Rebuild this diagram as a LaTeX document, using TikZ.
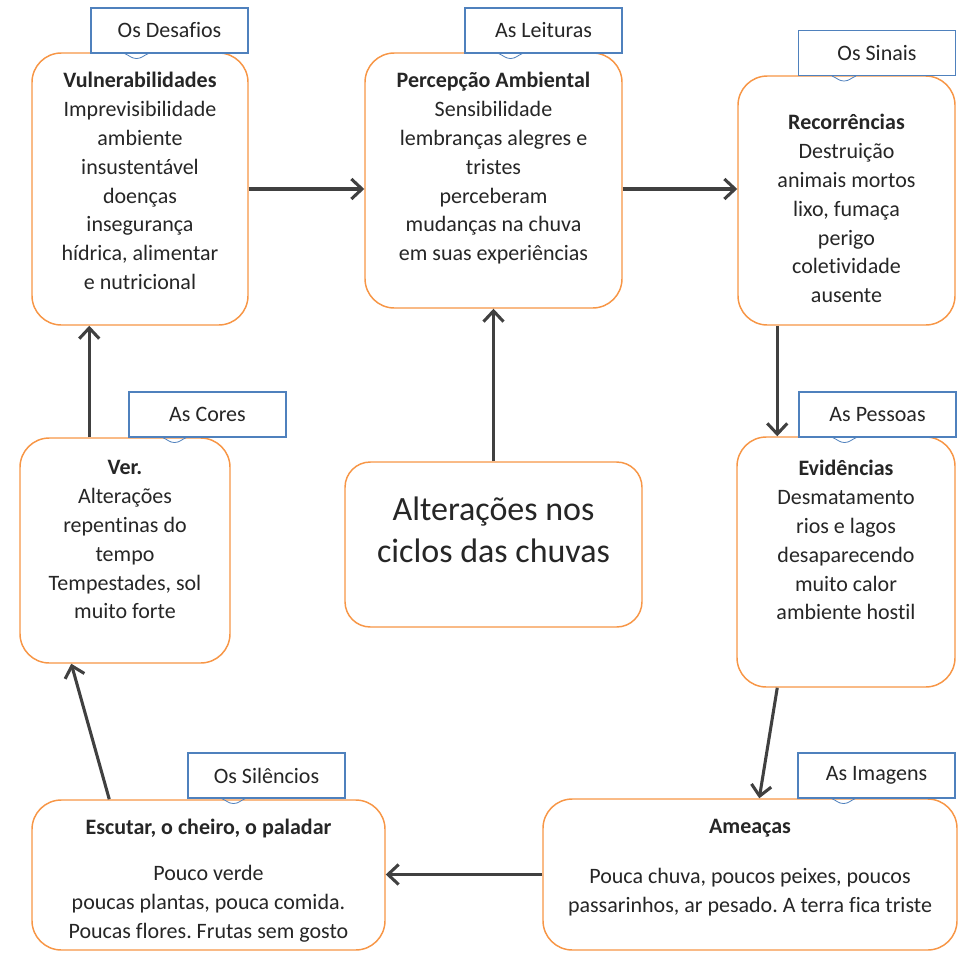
\documentclass[tikz,border=0pt]{standalone}
\usepackage{fontspec}
\setmainfont{Carlito}[Ligatures=NoCommon]
\frenchspacing
\usetikzlibrary{arrows.meta,positioning,calc}
\definecolor{ink}{HTML}{262626}
\definecolor{wire}{HTML}{404040}
\definecolor{frame}{HTML}{F79646}
\definecolor{tagline}{HTML}{4F81BD}
\newcommand{\card}[5]{%
  \node[card, minimum width=#4*0.75pt, minimum height=#5*0.75pt] (#1) at (#2,#3) {};}
\tikzset{
  card/.style={draw=frame, line width=1.1pt, rounded corners=22pt, fill=white, inner sep=0pt},
  cardtext/.style={anchor=north, align=center, font=\fontsize{16.5}{21.6}\selectfont, text=ink, inner sep=0pt},
  badge/.style={draw=tagline, line width=0.8pt, fill=white, minimum width=117.75pt, minimum height=33.75pt,
                font=\fontsize{16.5}{20}\selectfont, text=ink, inner sep=0pt},
  flow/.style={-{Straight Barb[length=8pt,width=15pt]}, wire, line width=2.3pt},
}

\begin{document}
\begin{tikzpicture}[x=0.75pt,y=-0.75pt]
\useasboundingbox (0,0) rectangle (963,956);

% ---------- boxes
\card{vul}{140}{189}{216}{272}
\card{per}{493.5}{180.5}{257}{255}
\card{rec}{846.5}{200.5}{217}{249}
\card{ver}{125}{550.5}{210}{225}
\card{evi}{846}{562}{218}{250}
\card{esc}{208.5}{875}{353}{150}
\card{ame}{750}{874.5}{414}{151}
\node[card, rounded corners=19pt, minimum width=222.75pt, minimum height=123.75pt] (alt) at (493.5,544.5) {};

% ---------- box texts
\node[cardtext] (vul-t) at ($(vul.north)+(0,20)$)
  {\textbf{Vulnerabilidades}\\Imprevisibilidade\\ambiente\\insustentável\\doenças\\insegurança\\hídrica, alimentar\\e nutricional};
\node[cardtext] (per-t) at ($(per.north)+(0,20)$)
  {\textbf{Percepção Ambiental}\\Sensibilidade\\lembranças alegres e\\tristes\\perceberam\\mudanças na chuva\\em suas experiências};
\node[cardtext] (rec-t) at ($(rec.north)+(0,39)$)
  {\textbf{Recorrências}\\Destruição\\animais mortos\\lixo, fumaça\\perigo\\coletividade\\ausente};
\node[cardtext] (ver-t) at ($(ver.north)+(0,23)$)
  {\textbf{Ver.}\\Alterações\\repentinas do\\tempo\\Tempestades, sol\\muito forte};
\node[cardtext] (evi-t) at ($(evi.north)+(0,24)$)
  {\textbf{Evidências}\\Desmatamento\\rios e lagos\\desaparecendo\\muito calor\\ambiente hostil};
\node[cardtext] (esc-t) at ($(esc.north)+(0,20)$)
  {\textbf{Escutar, o cheiro, o paladar}\\[12.5pt]Pouco verde\\poucas plantas, pouca comida.\\Poucas flores. Frutas sem gosto};
\node[cardtext] (ame-t) at ($(ame.north)+(0,21)$)
  {\textbf{Ameaças}\\[16pt]Pouca chuva, poucos peixes, poucos\\passarinhos, ar pesado. A terra fica triste};
\node[cardtext, font=\fontsize{25.5}{32}\selectfont] (alt-t) at ($(alt.north)+(0,35)$)
  {Alterações nos\\ciclos das chuvas};

% ---------- tags
\foreach \nm/\cx/\cy/\txt in {t1/169.5/30.5/Os Desafios, t2/543.5/30.5/As Leituras,
                              t3/877/53/Os Sinais, t4/207.5/414.5/As Cores,
                              t5/877.5/414.5/As Pessoas, t6/266.5/775.5/Os Silêncios,
                              t7/876.5/775.5/As Imagens} {
  \node[badge] (\nm) at (\cx,\cy) {\txt};
  \draw[tagline, line width=0.6pt] ($(\nm.south)+(-45,0)$) to[out=-20,in=180] ($(\nm.south)+(-33,5)$)
    to[out=0,in=200] ($(\nm.south)+(-21,0)$);
}

% ---------- connectors
\draw[flow] (vul.east) -- (vul.east -| per.west);
\draw[flow] (vul.east -| per.east) -- (vul.east -| rec.west);
\draw[flow] (alt.north) -- (alt.north |- per.south);
\draw[flow] ($(rec.south west)+(40,0)$) -- ($(evi.north west)+(41,0)$);
\draw[flow] ($(evi.south west)+(41,0)$) -- ($(ame.north west)+(217,0)$);
\draw[flow] (ame.west) -- (ame.west -| esc.east);
\draw[flow] ($(esc.north west)+(78,0)$) -- ($(ver.south west)+(52,0)$);
\draw[flow] ($(ver.north west)+(70,0)$) -- ($(vul.south west)+(58,0)$);

\end{tikzpicture}
\end{document}
